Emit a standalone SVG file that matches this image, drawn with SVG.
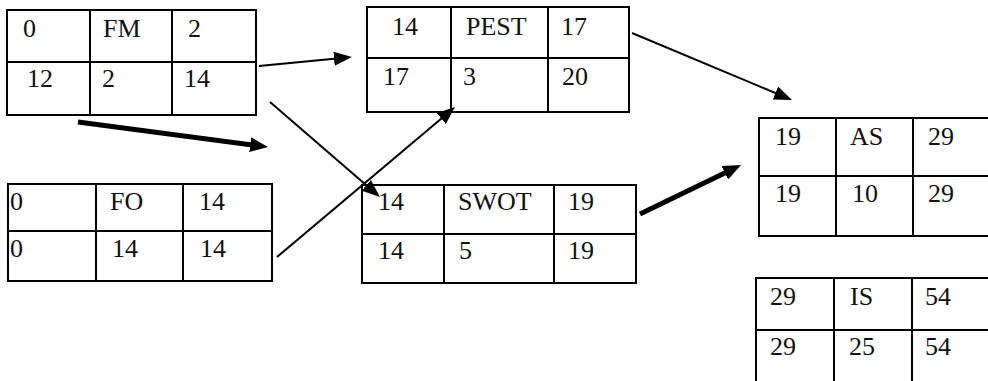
<svg xmlns="http://www.w3.org/2000/svg" width="988" height="381" viewBox="0 0 988 381">
<style>
.box{fill:#fff;stroke:#000;stroke-width:2}
.ln{stroke:#000;stroke-width:2}
.t{font-family:'Liberation Serif','DejaVu Serif',serif;font-size:26px;fill:#111}
.thin{stroke:#000;stroke-width:2;fill:none}
.thick{stroke:#000;stroke-width:5;fill:none}
</style>
<defs>
<marker id="ah" viewBox="0 0 18 14" refX="8" refY="7" markerWidth="18" markerHeight="14" markerUnits="userSpaceOnUse" orient="auto">
<path d="M0,0 L18,7 L0,14 z" fill="#000"/>
</marker>
<marker id="ahk" viewBox="0 0 18 15" refX="8" refY="7.5" markerWidth="18" markerHeight="15" markerUnits="userSpaceOnUse" orient="auto">
<path d="M0,0 L18,7.5 L0,15 z" fill="#000"/>
</marker>
</defs>
<rect width="988" height="381" fill="#fff"/>
<g id="FM">
<rect class="box" x="7" y="10" width="249" height="105"/>
<line class="ln" x1="7" y1="62" x2="256" y2="62"/>
<line class="ln" x1="90" y1="10" x2="90" y2="115"/>
<line class="ln" x1="172" y1="10" x2="172" y2="115"/>
<g class="t" font-family="Liberation Serif, serif">
<text x="23" y="37">0</text><text x="103" y="37">FM</text><text x="188" y="37">2</text>
<text x="27" y="87">12</text><text x="102" y="87">2</text><text x="184" y="87">14</text>
</g>
</g>
<g id="PEST">
<rect class="box" x="367" y="7" width="262" height="105"/>
<line class="ln" x1="367" y1="58" x2="629" y2="58"/>
<line class="ln" x1="451" y1="7" x2="451" y2="112"/>
<line class="ln" x1="548" y1="7" x2="548" y2="112"/>
<g class="t" font-family="Liberation Serif, serif">
<text x="392" y="35">14</text><text x="466" y="35">PEST</text><text x="561" y="35">17</text>
<text x="383" y="85">17</text><text x="463" y="85">3</text><text x="562" y="85">20</text>
</g>
</g>
<g id="FO">
<rect class="box" x="8" y="184" width="264" height="97"/>
<line class="ln" x1="8" y1="231" x2="272" y2="231"/>
<line class="ln" x1="96" y1="184" x2="96" y2="281"/>
<line class="ln" x1="183" y1="184" x2="183" y2="281"/>
<g class="t" font-family="Liberation Serif, serif">
<text x="10" y="210">0</text><text x="110" y="210">FO</text><text x="199" y="210">14</text>
<text x="10" y="257">0</text><text x="112" y="257">14</text><text x="200" y="257">14</text>
</g>
</g>
<g id="SWOT">
<rect class="box" x="362" y="185" width="274" height="98"/>
<line class="ln" x1="362" y1="234" x2="636" y2="234"/>
<line class="ln" x1="444" y1="185" x2="444" y2="283"/>
<line class="ln" x1="554" y1="185" x2="554" y2="283"/>
<g class="t" font-family="Liberation Serif, serif">
<text x="378" y="210">14</text><text x="458" y="210">SWOT</text><text x="568" y="210">19</text>
<text x="378" y="259">14</text><text x="459" y="259">5</text><text x="568" y="259">19</text>
</g>
</g>
<g id="AS">
<rect class="box" x="759" y="118" width="231" height="118"/>
<line class="ln" x1="759" y1="176" x2="990" y2="176"/>
<line class="ln" x1="836" y1="118" x2="836" y2="236"/>
<line class="ln" x1="913" y1="118" x2="913" y2="236"/>
<g class="t" font-family="Liberation Serif, serif">
<text x="775" y="145">19</text><text x="850" y="145">AS</text><text x="928" y="145">29</text>
<text x="775" y="202">19</text><text x="852" y="202">10</text><text x="928" y="202">29</text>
</g>
</g>
<g id="IS">
<rect class="box" x="756" y="278" width="234" height="106"/>
<line class="ln" x1="756" y1="330" x2="990" y2="330"/>
<line class="ln" x1="834" y1="278" x2="834" y2="384"/>
<line class="ln" x1="912" y1="278" x2="912" y2="384"/>
<g class="t" font-family="Liberation Serif, serif">
<text x="770" y="305">29</text><text x="850" y="305">IS</text><text x="925" y="305">54</text>
<text x="770" y="355">29</text><text x="849" y="355">25</text><text x="925" y="355">54</text>
</g>
</g>
<g id="connectors">
<line class="thin" x1="259" y1="66" x2="342" y2="58" marker-end="url(#ah)"/>
<line class="thick" x1="78" y1="122" x2="258.1" y2="145.7" marker-end="url(#ahk)"/>
<line class="thin" x1="270" y1="102" x2="372.4" y2="190.5" marker-end="url(#ah)"/>
<line class="thin" x1="277" y1="257" x2="447.4" y2="113.4" marker-end="url(#ah)"/>
<line class="thin" x1="632" y1="33" x2="782.8" y2="96.1" marker-end="url(#ah)"/>
<line class="thick" x1="640" y1="214" x2="732" y2="169.4" marker-end="url(#ahk)"/>
</g>
</svg>
